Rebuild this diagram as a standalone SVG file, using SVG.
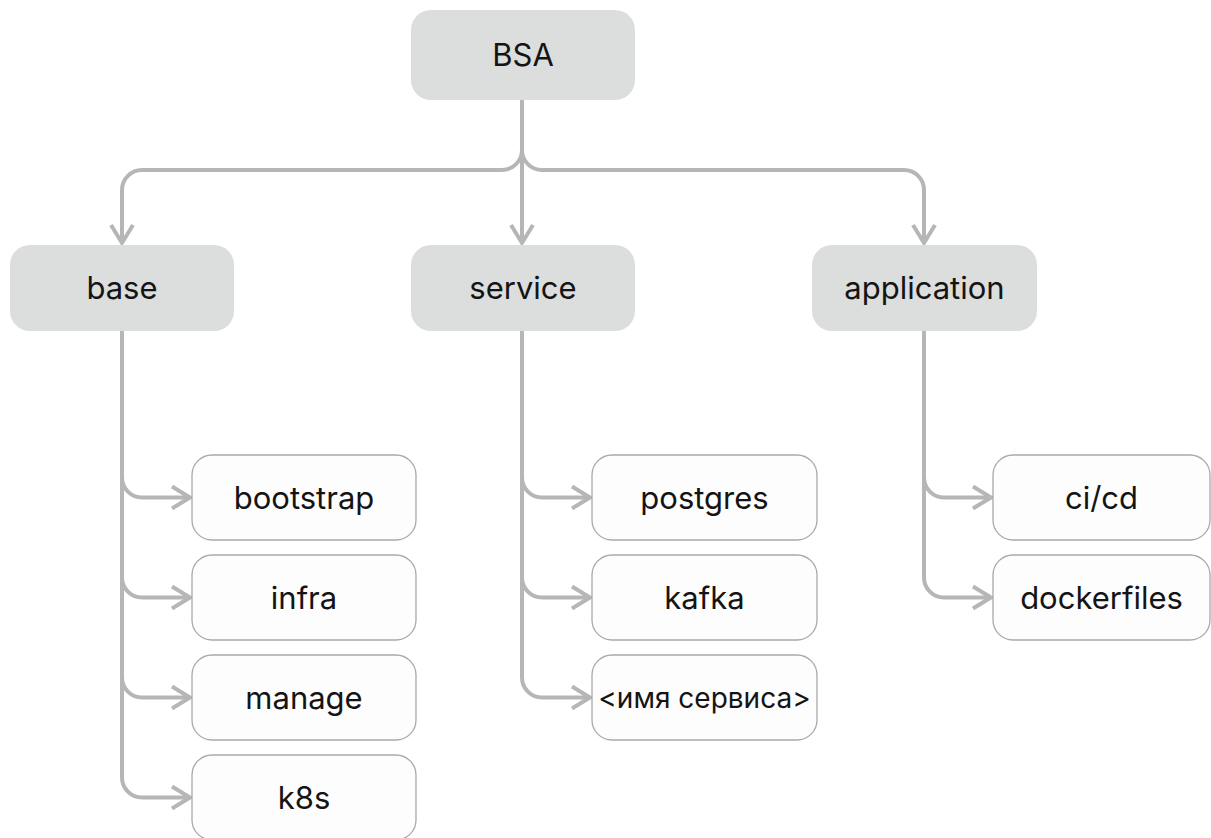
<svg xmlns="http://www.w3.org/2000/svg" width="1211" height="838" viewBox="0 0 1211 838">
<defs>
<style>
.parent{fill:#dcdddd;}
.child{fill:#fdfdfd;stroke:#a9a9a9;stroke-width:1.3;}
.lbl{font-family:Inter,"Noto Sans","Liberation Sans",sans-serif;font-size:31px;fill:#141414;text-anchor:middle;}
.conn{fill:none;stroke:#b6b6b6;stroke-width:4;}
</style>
<marker id="arr" markerUnits="userSpaceOnUse" viewBox="-24 -16 28 32" refX="0" refY="0" markerWidth="28" markerHeight="32" orient="auto" overflow="visible">
<path d="M-18,-11 L0,0 L-18,11" fill="none" stroke="#b6b6b6" stroke-width="4" stroke-linejoin="miter" stroke-linecap="butt"/>
</marker>
</defs>
<rect width="1211" height="838" fill="#ffffff"/>
<g id="connectors" class="conn" marker-end="url(#arr)">
<path d="M522,100 V243"/>
<path d="M522,100 V150 A20,20 0 0 1 502,170 H142 A20,20 0 0 0 122,190 V243"/>
<path d="M522,100 V150 A20,20 0 0 0 542,170 H904 A20,20 0 0 1 924,190 V243"/>
<path d="M122,331 V477.5 A20,20 0 0 0 142,497.5 H190"/>
<path d="M122,331 V577.5 A20,20 0 0 0 142,597.5 H190"/>
<path d="M122,331 V677.5 A20,20 0 0 0 142,697.5 H190"/>
<path d="M122,331 V777.5 A20,20 0 0 0 142,797.5 H190"/>
<path d="M522,331 V477.5 A20,20 0 0 0 542,497.5 H590"/>
<path d="M522,331 V577.5 A20,20 0 0 0 542,597.5 H590"/>
<path d="M522,331 V677.5 A20,20 0 0 0 542,697.5 H590"/>
<path d="M924,331 V477.5 A20,20 0 0 0 944,497.5 H991"/>
<path d="M924,331 V577.5 A20,20 0 0 0 944,597.5 H991"/>
</g>
<g id="node-bsa"><rect class="parent" x="411" y="10" width="224" height="90" rx="20"/><text class="lbl" x="523" y="66">BSA</text></g>
<g id="node-base"><rect class="parent" x="10" y="245" width="224" height="86" rx="20"/><text class="lbl" x="122" y="299">base</text></g>
<g id="node-service"><rect class="parent" x="411" y="245" width="224" height="86" rx="20"/><text class="lbl" x="523" y="299">service</text></g>
<g id="node-application"><rect class="parent" x="812" y="245" width="225" height="86" rx="20"/><text class="lbl" x="924.5" y="299">application</text></g>
<g id="node-bootstrap"><rect class="child" x="192" y="455" width="224" height="85" rx="20"/><text class="lbl" x="304" y="509">bootstrap</text></g>
<g id="node-infra"><rect class="child" x="192" y="555" width="224" height="85" rx="20"/><text class="lbl" x="304" y="609">infra</text></g>
<g id="node-manage"><rect class="child" x="192" y="655" width="224" height="85" rx="20"/><text class="lbl" x="304" y="709">manage</text></g>
<g id="node-k8s"><rect class="child" x="192" y="755" width="224" height="85" rx="20"/><text class="lbl" x="304" y="809">k8s</text></g>
<g id="node-postgres"><rect class="child" x="592" y="455" width="225" height="85" rx="20"/><text class="lbl" x="704.5" y="509">postgres</text></g>
<g id="node-kafka"><rect class="child" x="592" y="555" width="225" height="85" rx="20"/><text class="lbl" x="704.5" y="609">kafka</text></g>
<g id="node-service-name"><rect class="child" x="592" y="655" width="225" height="85" rx="20"/><text class="lbl" x="704.5" y="708" style="font-size:28px">&lt;имя сервиса&gt;</text></g>
<g id="node-cicd"><rect class="child" x="993" y="455" width="217" height="85" rx="20"/><text class="lbl" x="1101.5" y="509">ci/cd</text></g>
<g id="node-dockerfiles"><rect class="child" x="993" y="555" width="217" height="85" rx="20"/><text class="lbl" x="1101.5" y="609">dockerfiles</text></g>
</svg>
